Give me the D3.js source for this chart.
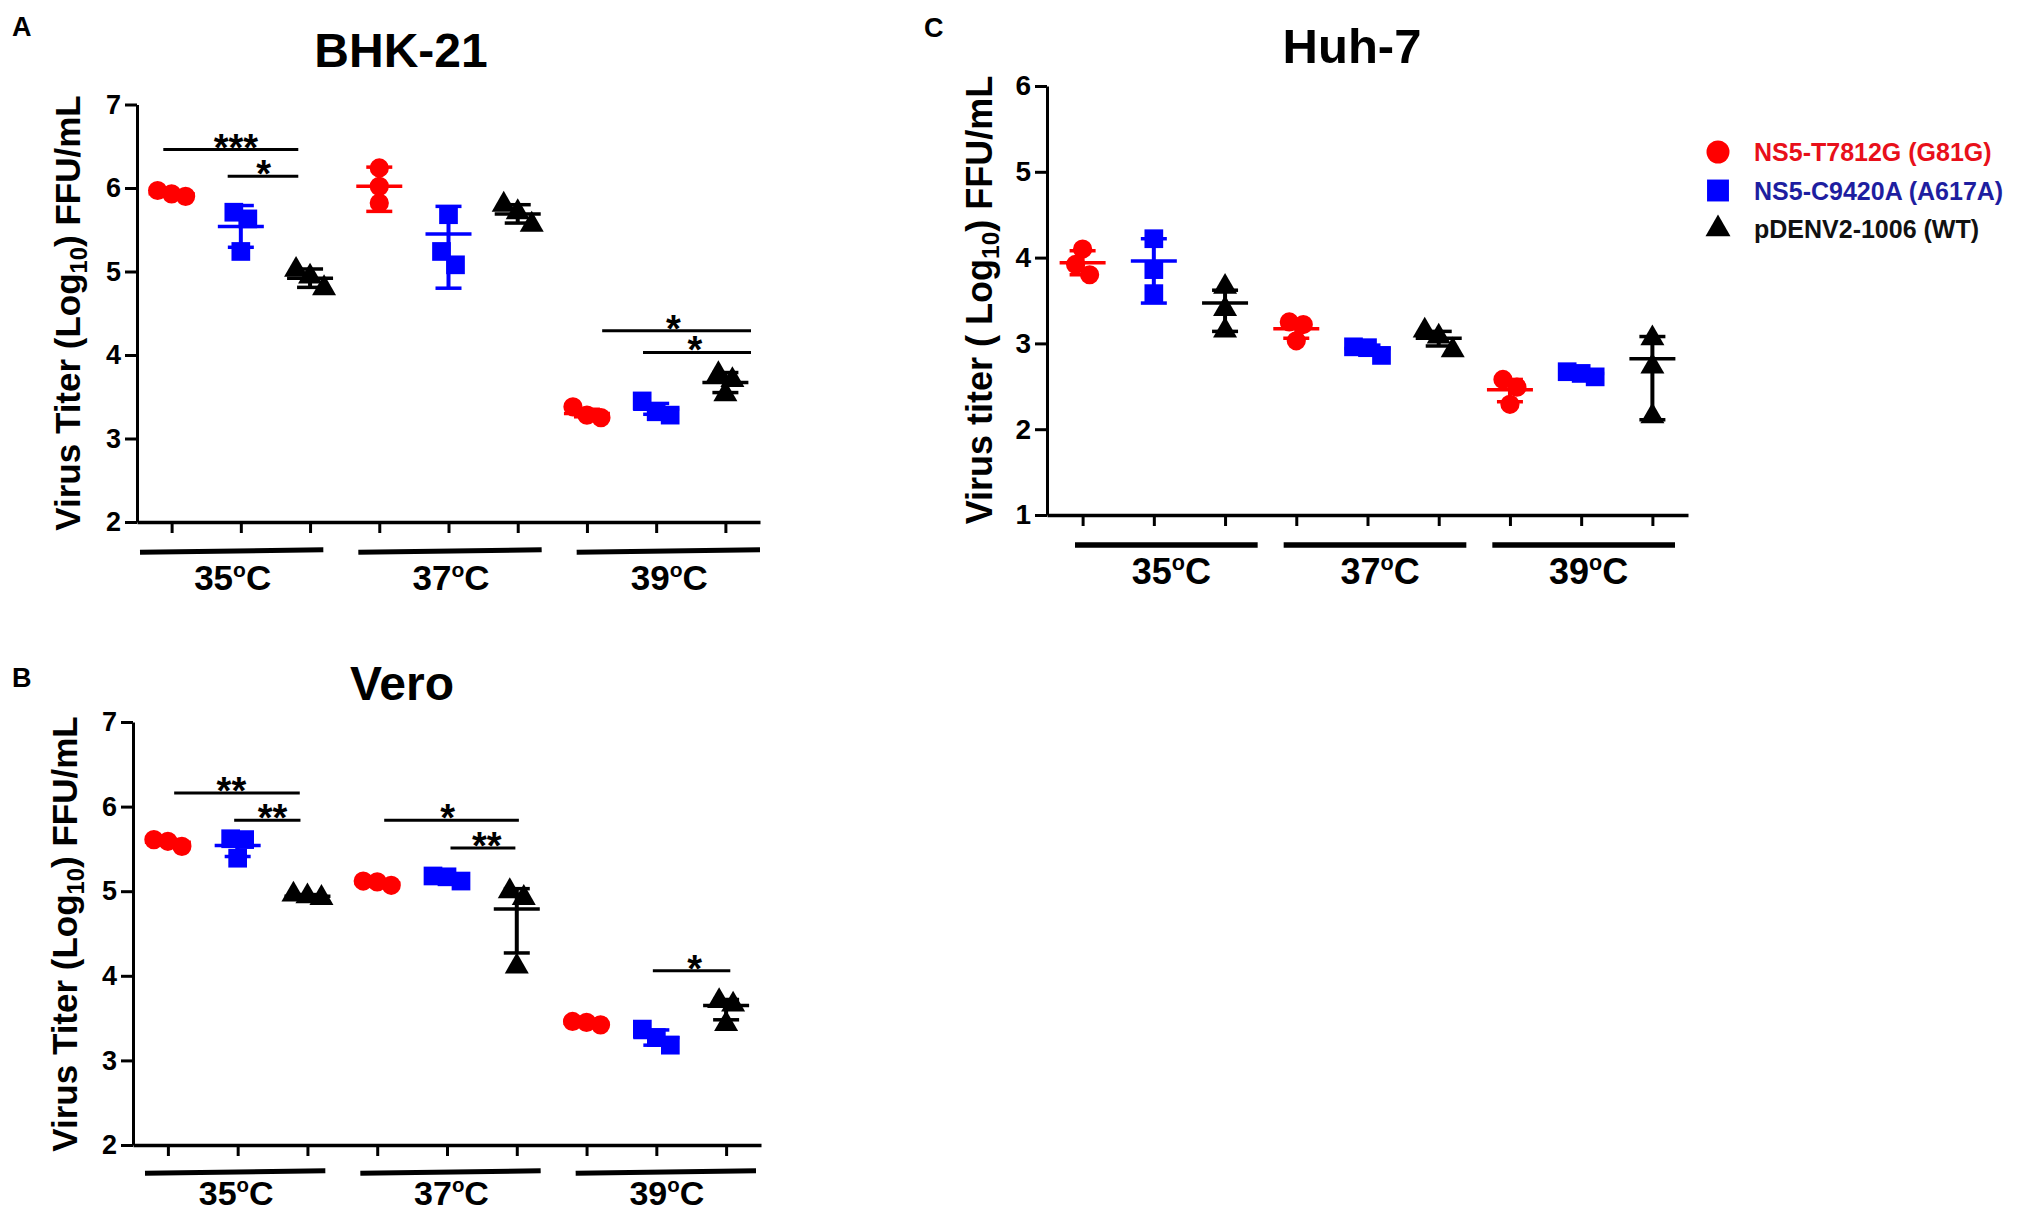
<!DOCTYPE html>
<html><head><meta charset="utf-8">
<script src="https://cdn.jsdelivr.net/npm/d3@7"></script>
<style>
body{margin:0;background:#fff}
svg{display:block}
text{font-family:"Liberation Sans",Arial,Helvetica,sans-serif;font-weight:bold}
</style>
</head><body>
<svg id="chart" width="2033" height="1217"></svg>
<script>
// ---------- data ----------
const seriesNames = ["NS5-T7812G (G81G)", "NS5-C9420A (A617A)", "pDENV2-1006 (WT)"];
const seriesColors = ["#ff0000", "#0000ff", "#000000"];
const legendTextColors = ["#e8101a", "#1e1ea0", "#111111"];
const temperatures = ["35", "37", "39"];
const ticksAB = [2, 3, 4, 5, 6, 7];
const ticksC = [1, 2, 3, 4, 5, 6];

// BHK-21 : [temperature][series][replicates]
const bhkPoints = [
  [[5.97, 5.93, 5.90], [5.71, 5.63, 5.24], [5.02, 4.94, 4.80]],
  [[6.24, 6.02, 5.82], [5.68, 5.24, 5.08], [5.80, 5.71, 5.56]],
  [[3.38, 3.28, 3.25], [3.45, 3.32, 3.28], [3.77, 3.70, 3.53]]
];
const bhkMean = [[5.93, 5.54, 4.92], [6.02, 5.45, 5.69], [3.30, 3.35, 3.67]];
const bhkLow  = [[5.90, 5.29, 4.81], [5.72, 4.80, 5.58], [3.26, 3.29, 3.55]];
const bhkHigh = [[5.97, 5.79, 5.03], [6.25, 5.78, 5.80], [3.35, 3.42, 3.79]];
const bhkSig = [
  { from: -0.12, to: 1.83, level: 6.46, label: "***", at: 0.93 },
  { from: 0.81, to: 1.83, level: 6.14, label: "*", at: 1.33 },
  { from: 6.22, to: 8.37, level: 4.29, label: "*", at: 7.25 },
  { from: 6.81, to: 8.37, level: 4.03, label: "*", at: 7.56 }
];

// Vero
const veroPoints = [
  [[5.61, 5.53, 5.59], [5.62, 5.61, 5.39], [4.96, 4.94, 4.92]],
  [[5.12, 5.07, 5.11], [5.18, 5.12, 5.17], [5.00, 4.92, 4.11]],
  [[3.46, 3.42, 3.45], [3.37, 3.27, 3.18], [3.70, 3.66, 3.43]]
];
const veroMean = [[5.58, 5.54, 4.94], [5.10, 5.16, 4.79], [3.44, 3.27, 3.65]];
const veroLow  = [[5.55, 5.41, 4.92], [5.07, 5.12, 4.27], [3.42, 3.18, 3.48]];
const veroHigh = [[5.61, 5.67, 4.96], [5.13, 5.19, 5.03], [3.46, 3.36, 3.72]];
const veroSig = [
  { from: 0.09, to: 1.89, level: 6.16, label: "**", at: 0.91 },
  { from: 0.95, to: 1.90, level: 5.84, label: "**", at: 1.50 },
  { from: 3.10, to: 5.03, level: 5.84, label: "*", at: 4.01 },
  { from: 4.05, to: 4.98, level: 5.51, label: "**", at: 4.57 },
  { from: 6.95, to: 8.06, level: 4.06, label: "*", at: 7.55 }
];

// Huh-7
const huhPoints = [
  [[4.10, 3.92, 3.80], [4.22, 3.86, 3.58], [3.66, 3.40, 3.15]],
  [[3.25, 3.22, 3.03], [2.96, 2.95, 2.86], [3.15, 3.08, 2.92]],
  [[2.58, 2.49, 2.29], [2.67, 2.65, 2.61], [3.06, 2.73, 2.15]]
];
const huhMean = [[3.94, 3.96, 3.47], [3.17, 2.94, 3.06], [2.46, 2.65, 2.82]];
const huhLow  = [[3.80, 3.47, 3.14], [3.06, 2.88, 2.97], [2.32, 2.62, 2.11]];
const huhHigh = [[4.08, 4.22, 3.62], [3.28, 2.98, 3.14], [2.58, 2.68, 3.08]];
const huhSig = [];

// ---------- drawing ----------
const svg = d3.select("#chart");
const symbolTypes = [d3.symbolCircle, d3.symbolSquare, d3.symbolTriangle];
const symbolSizes = [290, 350, 250];

function swarmOffsets(vals, thr, gap) {
  const idx = vals.map((v, i) => i).sort((a, b) => vals[b] - vals[a]);
  const off = new Array(vals.length).fill(0);
  let cluster = [idx[0]];
  const flush = () => {
    cluster.forEach((k, j) => off[k] = (j - (cluster.length - 1) / 2) * gap);
  };
  for (let i = 1; i < idx.length; i++) {
    if (vals[cluster[cluster.length - 1]] - vals[idx[i]] < thr) cluster.push(idx[i]);
    else { flush(); cluster = [idx[i]]; }
  }
  flush();
  return off;
}

function panel(o) {
  const g = svg.append("g");
  const keys = [];
  temperatures.forEach((t, ti) => seriesNames.forEach((s, si) => keys.push(ti + "-" + si)));
  const x = d3.scalePoint().domain(keys).range([o.x0, o.x1]).padding(0.5);
  const slot = d3.scaleLinear().domain([0, 8]).range([x(keys[0]), x(keys[8])]);
  const y = d3.scaleLinear().domain(o.domain).range([o.y0, o.y1]);

  // panel letter & title
  g.append("text").attr("x", o.letterX).attr("y", o.letterY).attr("font-size", 27).text(o.letter);
  g.append("text").attr("x", o.titleX).attr("y", o.titleY).attr("text-anchor", "middle")
    .attr("font-size", o.titleSize).text(o.title);

  // y axis
  const ya = g.append("g").attr("transform", `translate(${o.x0},0)`)
    .call(d3.axisLeft(y).tickValues(o.ticks).tickFormat(d3.format("d")).tickSize(12).tickPadding(4).tickSizeOuter(0));
  ya.select(".domain").attr("stroke", "#000").attr("stroke-width", 3);
  ya.selectAll(".tick line").attr("stroke", "#000").attr("stroke-width", 3);
  ya.selectAll(".tick text").attr("font-size", o.tickSize).attr("fill", "#000")
    .attr("font-family", "'Liberation Sans',Arial,sans-serif").attr("font-weight", "bold");

  // x axis
  const xa = g.append("g").attr("transform", `translate(0,${o.y0})`)
    .call(d3.axisBottom(x).tickSize(11).tickSizeOuter(0).tickFormat(""));
  xa.select(".domain").attr("stroke", "#000").attr("stroke-width", 3.5);
  xa.selectAll(".tick line").attr("stroke", "#000").attr("stroke-width", 3);

  // y label
  const yl = g.append("text").attr("transform", `translate(${o.ylabX},${o.ylabY}) rotate(-90)`)
    .attr("text-anchor", "middle").attr("font-size", o.ylabSize);
  yl.append("tspan").text(o.ylab[0]);
  yl.append("tspan").attr("font-size", o.ylabSize * 0.68).attr("dy", o.ylabSize * 0.2).text("10");
  yl.append("tspan").attr("dy", -o.ylabSize * 0.2).text(o.ylab[1]);

  // group underlines and labels
  const segW = (o.ulEnd - o.ulStart - 2 * o.ulGap) / 3;
  temperatures.forEach((t, ti) => {
    const a = o.ulStart + ti * (segW + o.ulGap), b = a + segW;
    g.append("line").attr("x1", a).attr("x2", b)
      .attr("y1", o.ulY + o.tilt / 2).attr("y2", o.ulY - o.tilt / 2)
      .attr("stroke", "#000").attr("stroke-width", o.ulW);
    const lt = g.append("text").attr("x", (a + b) / 2 + o.glOff).attr("y", o.glY)
      .attr("text-anchor", "middle").attr("font-size", o.glSize);
    lt.append("tspan").text(t);
    lt.append("tspan").attr("font-size", o.glSize * 0.6).attr("dy", -o.glSize * 0.38).text("o");
    lt.append("tspan").attr("dy", o.glSize * 0.38).text("C");
  });

  // points and error bars
  temperatures.forEach((t, ti) => {
    seriesNames.forEach((s, si) => {
      const cx = x(ti + "-" + si);
      const vals = o.points[ti][si];
      const off = swarmOffsets(vals, 0.17, 14);
      const sym = d3.symbol().type(symbolTypes[si]).size(symbolSizes[si]);
      vals.forEach((v, k) => {
        g.append("path").attr("d", sym())
          .attr("transform", `translate(${cx + off[k]},${y(v)})`)
          .attr("fill", seriesColors[si]);
      });
      const c = seriesColors[si];
      g.append("line").attr("x1", cx).attr("x2", cx).attr("y1", y(o.low[ti][si])).attr("y2", y(o.high[ti][si]))
        .attr("stroke", c).attr("stroke-width", 4);
      [o.low[ti][si], o.high[ti][si]].forEach(v => {
        g.append("line").attr("x1", cx - 13).attr("x2", cx + 13).attr("y1", y(v)).attr("y2", y(v))
          .attr("stroke", c).attr("stroke-width", 3.5);
      });
      g.append("line").attr("x1", cx - 23).attr("x2", cx + 23).attr("y1", y(o.mean[ti][si])).attr("y2", y(o.mean[ti][si]))
        .attr("stroke", c).attr("stroke-width", 3.5);
    });
  });

  // significance bars
  o.sig.forEach(d => {
    g.append("line").attr("x1", slot(d.from)).attr("x2", slot(d.to))
      .attr("y1", y(d.level)).attr("y2", y(d.level)).attr("stroke", "#000").attr("stroke-width", 3);
    g.append("text").attr("x", slot(d.at)).attr("y", y(d.level) + 11)
      .attr("text-anchor", "middle").attr("font-size", 38).text(d.label);
  });
}

panel({
  letter: "A", letterX: 12, letterY: 36,
  title: "BHK-21", titleX: 401, titleY: 67, titleSize: 48,
  x0: 137, x1: 760, y0: 522, y1: 104.5, domain: [2, 7], ticks: ticksAB, tickSize: 27,
  ylab: ["Virus Titer (Log", ") FFU/mL"], ylabX: 80, ylabY: 313, ylabSize: 35,
  ulStart: 140, ulEnd: 760, ulGap: 35, ulY: 551, ulW: 5, tilt: 2.5,
  glY: 590, glSize: 35, glOff: 1,
  points: bhkPoints, mean: bhkMean, low: bhkLow, high: bhkHigh, sig: bhkSig
});

panel({
  letter: "B", letterX: 12, letterY: 687,
  title: "Vero", titleX: 402, titleY: 700, titleSize: 48,
  x0: 133, x1: 761, y0: 1145, y1: 722, domain: [2, 7], ticks: ticksAB, tickSize: 27,
  ylab: ["Virus Titer (Log", ") FFU/mL"], ylabX: 77, ylabY: 934, ylabSize: 35,
  ulStart: 145, ulEnd: 756, ulGap: 35, ulY: 1172, ulW: 5, tilt: 2.5,
  glY: 1205, glSize: 34, glOff: 1,
  points: veroPoints, mean: veroMean, low: veroLow, high: veroHigh, sig: veroSig
});

panel({
  letter: "C", letterX: 924, letterY: 37,
  title: "Huh-7", titleX: 1352, titleY: 63, titleSize: 49,
  x0: 1047, x1: 1688, y0: 515, y1: 86, domain: [1, 6], ticks: ticksC, tickSize: 28,
  ylab: ["Virus titer ( Log", ") FFU/mL"], ylabX: 992, ylabY: 300, ylabSize: 36,
  ulStart: 1075, ulEnd: 1675, ulGap: 26, ulY: 545, ulW: 5.5, tilt: 0,
  glY: 584, glSize: 36, glOff: 5,
  points: huhPoints, mean: huhMean, low: huhLow, high: huhHigh, sig: huhSig
});

// legend
const legendSizes = [415, 480, 270];
const legendY = d3.scalePoint().domain(seriesNames).range([152, 229]);
seriesNames.forEach((s, i) => {
  svg.append("path").attr("d", d3.symbol().type(symbolTypes[i]).size(legendSizes[i])())
    .attr("transform", `translate(1718,${legendY(s)})`).attr("fill", seriesColors[i]);
  svg.append("text").attr("x", 1754).attr("y", legendY(s) + 9).attr("font-size", 25)
    .attr("fill", legendTextColors[i]).text(s);
});
</script>
</body></html>
